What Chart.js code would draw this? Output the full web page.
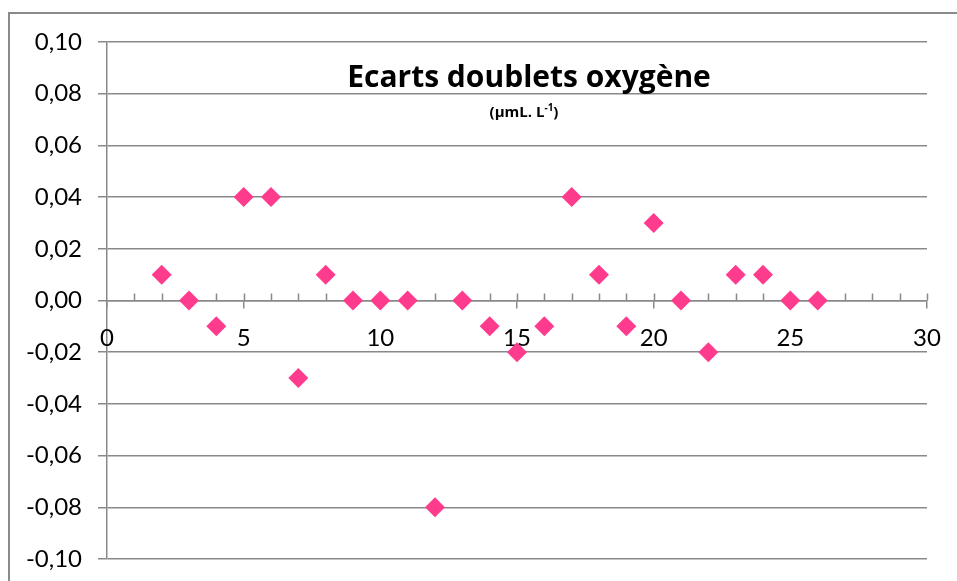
<!DOCTYPE html>
<html>
<head>
<meta charset="utf-8">
<script src="https://cdn.jsdelivr.net/npm/chart.js@4"></script>
<style>
  html, body { margin: 0; padding: 0; background: #fff; }
  #wrap { position: relative; width: 957px; height: 581px; overflow: hidden; }
  #frame { position: absolute; left: 8px; top: 12px; width: 1000px; height: 700px; border: 2px solid #8a8a8a; box-sizing: border-box; }
  canvas { position: absolute; left: 0; top: 0; }
</style>
</head>
<body>
<div id="wrap">
  <div id="frame"></div>
  <canvas id="chart" width="957" height="581"></canvas>
</div>
<script>
  // données
  const echantillons = [2, 3, 4, 5, 6, 7, 8, 9, 10, 11, 12, 13, 14, 15, 16, 17, 18, 19, 20, 21, 22, 23, 24, 25, 26];
  const ecarts = [0.01, 0, -0.01, 0.04, 0.04, -0.03, 0.01, 0, 0, 0, -0.08, 0, -0.01, -0.02, -0.01, 0.04, 0.01, -0.01, 0.03, 0, -0.02, 0.01, 0.01, 0, 0];
  const titre = 'Ecarts doublets oxygène';
  const unite = ['(µmL. L', '-1', ')'];

  const gris = '#898989';
  const rose = '#FF3B8D';
  const police = 'Lato, "Open Sans", sans-serif';
  const policeTitre = '"Open Sans", Lato, sans-serif';

  // titre dessiné dans la zone de tracé, comme dans Excel
  const titrePlugin = {
    id: 'titre',
    afterDraw(chart) {
      const ctx = chart.ctx;
      ctx.save();
      ctx.fillStyle = '#000';
      ctx.textBaseline = 'alphabetic';
      ctx.textAlign = 'center';
      ctx.font = 'bold 30px ' + policeTitre;
      ctx.fillText(titre, 529, 87);

      // sous-titre avec exposant
      ctx.textAlign = 'left';
      ctx.font = 'bold 15px ' + policeTitre;
      const w1 = ctx.measureText(unite[0]).width;
      ctx.font = 'bold 10px ' + policeTitre;
      const w2 = ctx.measureText(unite[1]).width;
      ctx.font = 'bold 15px ' + policeTitre;
      const w3 = ctx.measureText(unite[2]).width;
      let x = 524 - (w1 + w2 + w3) / 2;
      ctx.fillText(unite[0], x, 117);
      x += w1;
      ctx.font = 'bold 10px ' + policeTitre;
      ctx.fillText(unite[1], x, 111);
      x += w2;
      ctx.font = 'bold 15px ' + policeTitre;
      ctx.fillText(unite[2], x, 117);
      ctx.restore();
    }
  };

  // petites graduations au-dessus de l'axe horizontal
  const graduationsPlugin = {
    id: 'graduations',
    beforeDatasetsDraw(chart) {
      const xs = chart.scales.x;
      const y0 = chart.scales.y.getPixelForValue(0);
      const ctx = chart.ctx;
      ctx.save();
      ctx.strokeStyle = gris;
      ctx.lineWidth = 1.5;
      ctx.beginPath();
      for (let v = 1; v <= 30; v++) {
        const px = Math.round(xs.getPixelForValue(v)) + 0.5;
        ctx.moveTo(px, y0 - 7);
        ctx.lineTo(px, y0);
      }
      ctx.stroke();
      ctx.restore();
    }
  };

  new Chart(document.getElementById('chart'), {
    type: 'scatter',
    data: {
      datasets: [{
        data: echantillons.map((x, i) => ({ x: x, y: ecarts[i] })),
        pointStyle: 'rectRot',
        pointRadius: 10,
        pointHoverRadius: 10,
        backgroundColor: rose,
        borderColor: rose,
        borderWidth: 0,
        clip: false
      }]
    },
    options: {
      responsive: false,
      animation: false,
      layout: { padding: { left: 0, top: 42, right: 30, bottom: 22 } },
      plugins: {
        legend: { display: false },
        tooltip: { enabled: false }
      },
      scales: {
        y: {
          min: -0.1,
          max: 0.1,
          afterFit(scale) {
            scale.width = 107;
            scale.paddingTop = 0;
            scale.paddingBottom = 0;
          },
          ticks: {
            stepSize: 0.02,
            padding: 16,
            color: '#000',
            font: { family: police, size: 24 },
            callback: v => (Math.abs(v) < 1e-9 ? 0 : v).toFixed(2).replace('.', ',')
          },
          grid: { color: gris, lineWidth: 1.5, tickLength: 9 },
          border: { color: gris, width: 1.5 }
        },
        x: {
          type: 'linear',
          position: { y: 0 },
          min: 0,
          max: 30,
          afterFit(scale) { scale.height = 0; },
          ticks: {
            stepSize: 1,
            autoSkip: false,
            maxRotation: 0,
            padding: 16,
            color: '#000',
            font: { family: police, size: 24 },
            callback: v => (v % 5 === 0 ? String(v) : '')
          },
          grid: {
            drawOnChartArea: false,
            tickLength: 7,
            lineWidth: 1.5,
            color: ctx => (ctx.tick && ctx.tick.value % 5 === 0 ? gris : 'rgba(0,0,0,0)')
          },
          border: { color: gris, width: 1.5 }
        }
      }
    },
    plugins: [graduationsPlugin, titrePlugin]
  });
</script>
</body>
</html>
